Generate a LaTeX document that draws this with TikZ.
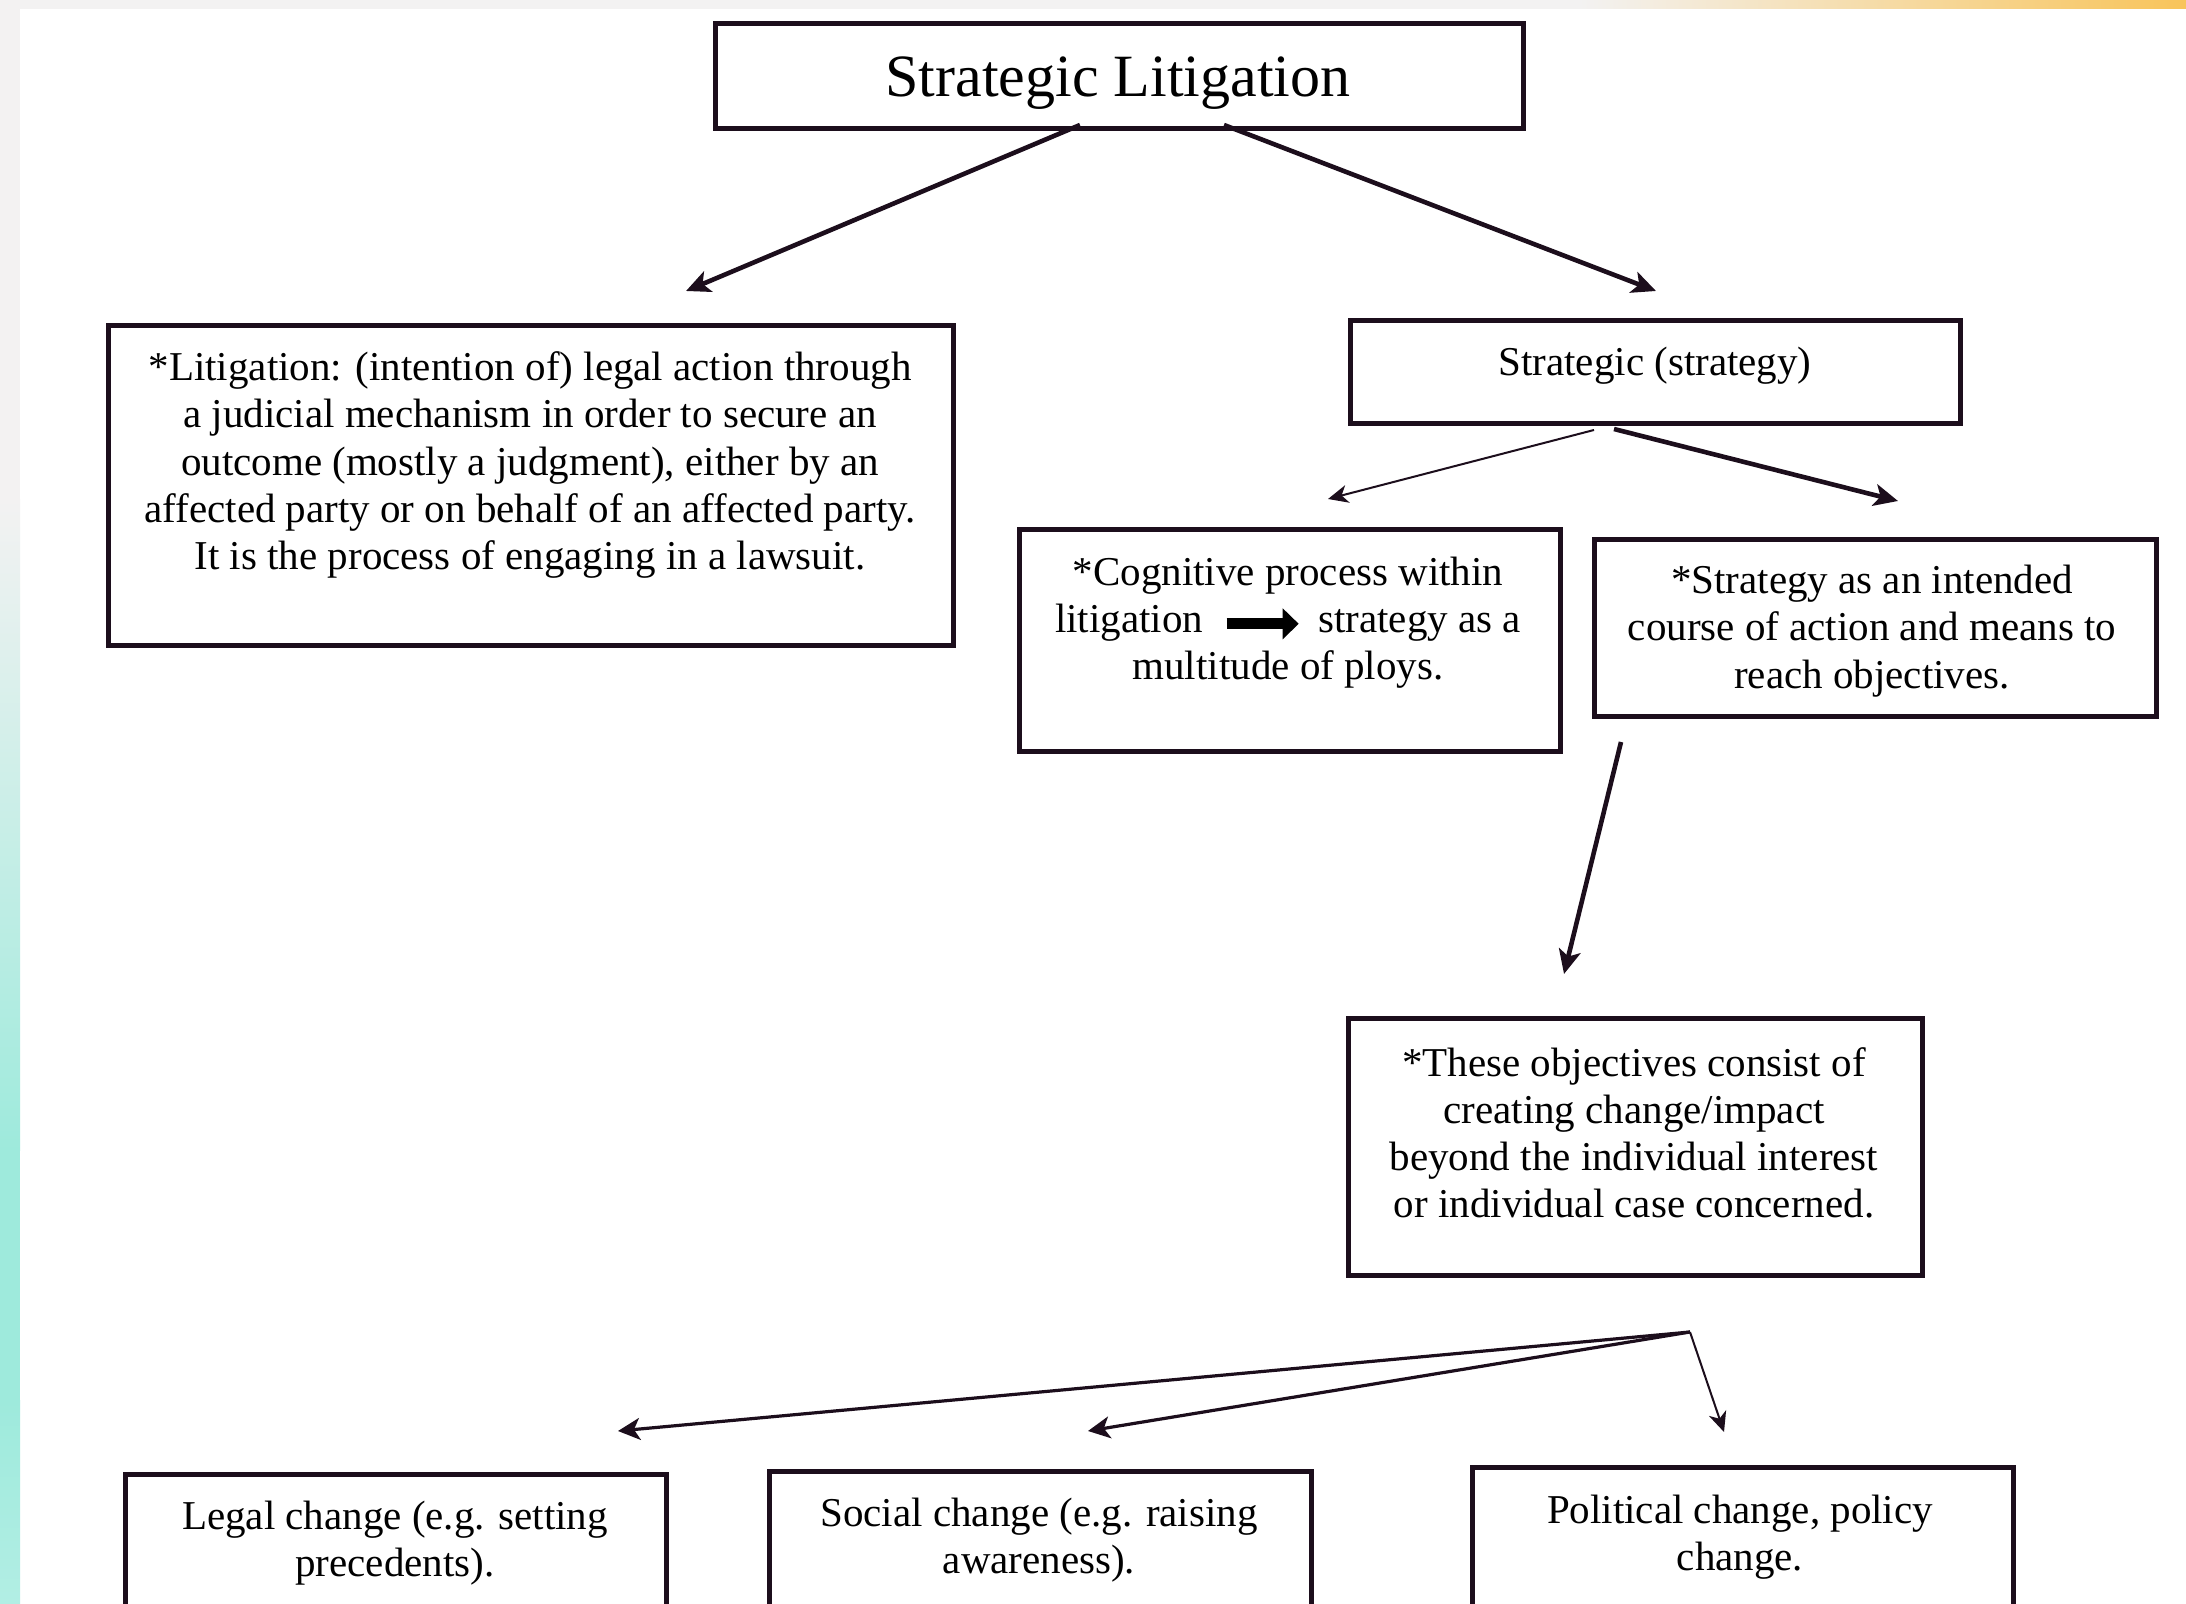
\documentclass[tikz,border=0pt]{standalone}
\usepackage{fontspec}
\setmainfont{Liberation Serif}
\usetikzlibrary{arrows.meta}
\definecolor{ink}{HTML}{1C0E1C}
\definecolor{bggray}{HTML}{F3F2F2}
\definecolor{tealc}{HTML}{9EEADC}
\definecolor{teallight}{HTML}{B2EEE4}
\definecolor{orangec}{HTML}{F8C45A}
\begin{document}
\begin{tikzpicture}[x=0.5pt,y=-0.5pt,
  box/.style={draw=ink, line width=2.6pt, rectangle, inner sep=0pt, anchor=north west},
  txt/.style={align=center, font=\fontsize{20.5}{23.6}\selectfont, inner sep=0pt, text=black},
  thickarrow/.style={draw=ink, line width=2.3pt, -{Stealth[length=12pt,width=11pt,inset=3pt]}},
  medarrow/.style={draw=ink, line width=1.6pt, -{Stealth[length=11pt,width=11pt,inset=3pt]}},
  thinarrow/.style={draw=ink, line width=1pt, -{Stealth[length=10pt,width=9pt,inset=3pt]}}]
\useasboundingbox (0,0) rectangle (2186,1604);
\clip (0,0) rectangle (2186,1604);
% background
\fill[bggray] (0,0) rectangle (2186,1604);
\fill[white] (20,9) rectangle (2186,1604);
\shade[top color=bggray, bottom color=tealc] (0,500) rectangle (20,1150);
\fill[tealc] (0,1150) rectangle (20,1400);
\shade[top color=tealc, bottom color=teallight] (0,1400) rectangle (20,1604);
\shade[left color=bggray, right color=orangec] (1580,0) rectangle (2186,9);

% boxes
\node[box, minimum width=404pt, minimum height=52.5pt] (top) at (713,21) {};
\node[box, minimum width=422.5pt, minimum height=160pt] (lit) at (106,323) {};
\node[box, minimum width=305pt, minimum height=51.5pt] (strat) at (1348,318) {};
\node[box, minimum width=270.5pt, minimum height=111pt] (cog) at (1017,527) {};
\node[box, minimum width=281pt, minimum height=88.5pt] (intd) at (1592,537) {};
\node[box, minimum width=287pt, minimum height=128.5pt] (obj) at (1346,1016) {};
\node[box, minimum width=270.5pt, minimum height=100pt] (legal) at (123,1472) {};
\node[box, minimum width=271pt, minimum height=100pt] (social) at (767,1469) {};
\node[box, minimum width=270.5pt, minimum height=100pt] (polit) at (1470,1465) {};

% texts
\node[txt, font=\fontsize{30}{34}\selectfont] (ttop) at (1118,83) {Strategic Litigation};
\node[txt] (tlit) at (530,465) {*Litigation: (intention of) legal action through\\
a judicial mechanism in order to secure an\\
outcome (mostly a judgment), either by an\\
affected party or on behalf of an affected party.\\
It is the process of engaging in a lawsuit.};
\node[txt] (tstrat) at (1655,366) {Strategic (strategy)};
\node[txt] (tcog) at (1288,623) {*Cognitive process within\\
litigation\hspace{9pt}\tikz[baseline=0pt]\draw[draw=black, line width=5.5pt,-{Triangle[length=8pt,width=15pt]}] (0pt,4.5pt) -- (36pt,4.5pt);\hspace{7pt}strategy as a\\
multitude of ploys.};
\node[txt] (tintd) at (1872,631) {*Strategy as an intended\\
course of action and means to\\
reach objectives.};
\node[txt] (tobj) at (1634,1133) {*These objectives consist of\\
creating change/impact\\
beyond the individual interest\\
or individual case concerned.};
\node[txt] (tlegal) at (395,1543) {Legal change (e.g. setting\\precedents).};
\node[txt] (tsocial) at (1039,1540) {Social change (e.g. raising\\awareness).};
\node[txt] (tpolit) at (1740,1537) {Political change, policy\\change.};

% connector end points
\coordinate (a1s) at (1080,125);
\coordinate (a1e) at (686,291);
\coordinate (a2s) at (1224,125);
\coordinate (a2e) at (1656,291);
\coordinate (a3s) at (1594,430);
\coordinate (a3e) at (1328,499);
\coordinate (a4s) at (1614,429);
\coordinate (a4e) at (1898,501);
\coordinate (a5s) at (1621,742);
\coordinate (a5e) at (1564,974);
\coordinate (fan) at (1690,1332);
\coordinate (a6e) at (618,1431);
\coordinate (a7e) at (1088,1431);
\coordinate (a8e) at (1724,1432);

\draw[thickarrow] (a1s) -- (a1e);
\draw[thickarrow] (a2s) -- (a2e);
\draw[thinarrow] (a3s) -- (a3e);
\draw[thickarrow] (a4s) -- (a4e);
\draw[thickarrow] (a5s) -- (a5e);
\draw[medarrow] (fan) -- (a6e);
\draw[medarrow] (fan) -- (a7e);
\draw[thinarrow] (fan) -- (a8e);
\end{tikzpicture}
\end{document}
